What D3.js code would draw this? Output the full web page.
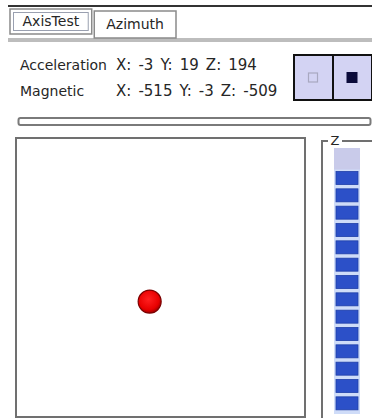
<!DOCTYPE html>
<html><head><meta charset="utf-8">
<script src="https://cdn.jsdelivr.net/npm/d3@7"></script>
<style>
html,body{margin:0;padding:0;background:#fff;}
svg{display:block;}
text{font-family:"DejaVu Sans",Tahoma,sans-serif;fill:#262626;}
</style></head>
<body>
<script>
// ---- data ----
const tabs = ["AxisTest", "Azimuth"];
const sensors = ["Acceleration", "Magnetic"];
const axisNames = ["X", "Y", "Z"];
const accel = [-3, 19, 194];
const magnetic = [-515, -3, -509];
const meterLabel = "Z";
const meterSlots = d3.range(15);
const meterMax = 208;

const W = 372, H = 418;
const svg = d3.select("body").append("svg").attr("width", W).attr("height", H);

// top edge line
svg.append("line").attr("x1", 8).attr("x2", W).attr("y1", 6).attr("y2", 6)
  .attr("stroke", "#333").attr("stroke-width", 2);
// tab strip bottom band
svg.append("rect").attr("x", 8).attr("y", 38).attr("width", W - 8).attr("height", 4).attr("fill", "#bdbdbd");

// tabs
const tabX = d3.scaleBand().domain(tabs).range([10, 176]).paddingInner(0.03);
const tabG = svg.selectAll("g.tab").data(tabs).join("g").attr("class", "tab");
tabG.append("rect")
  .attr("x", d => tabX(d)).attr("y", (d, i) => i === 0 ? 9 : 11)
  .attr("width", tabX.bandwidth()).attr("height", (d, i) => i === 0 ? 25 : 27)
  .attr("fill", "#fff").attr("stroke", "#8a8a8a").attr("stroke-width", 1.5);
tabG.filter((d, i) => i === 0).append("rect")
  .attr("x", d => tabX(d) + 3.5).attr("y", 12.5)
  .attr("width", tabX.bandwidth() - 7).attr("height", 18)
  .attr("fill", "none").attr("stroke", "#9aa0b0").attr("stroke-width", 1);
tabG.append("text")
  .attr("x", d => tabX(d) + tabX.bandwidth() / 2).attr("y", (d, i) => i === 0 ? 26 : 29)
  .attr("text-anchor", "middle").attr("font-size", 14).text(d => d);

// sensor readout
const rowY = d3.scalePoint().domain(sensors).range([70, 96]);
const readings = [accel, magnetic];
sensors.forEach((s, i) => {
  svg.append("text").attr("x", 20).attr("y", rowY(s)).attr("font-size", 14).text(s);
  svg.append("text").attr("x", 116).attr("y", rowY(s)).attr("font-size", 15)
    .attr("word-spacing", 2.3)
    .text(axisNames.map((a, j) => a + ": " + readings[i][j]).join(" "));
});

// buttons
const btnX = d3.scaleBand().domain(["off", "on"]).range([294, 372]);
svg.selectAll("rect.btn").data(btnX.domain()).join("rect").attr("class", "btn")
  .attr("x", d => btnX(d)).attr("y", 55).attr("width", btnX.bandwidth()).attr("height", 45)
  .attr("fill", "#d3d3f3").attr("stroke", "#111").attr("stroke-width", 2);
svg.append("rect").attr("x", btnX("off") + btnX.bandwidth() / 2 - 5).attr("y", 73)
  .attr("width", 9).attr("height", 9).attr("fill", "none").attr("stroke", "#a8a8c0").attr("stroke-width", 1.2);
svg.append("rect").attr("x", btnX("on") + btnX.bandwidth() / 2 - 6).attr("y", 72)
  .attr("width", 11).attr("height", 11).attr("fill", "#0b0b3a");

// progress bar (empty)
svg.append("rect").attr("x", 18.5).attr("y", 118).attr("width", 352).attr("height", 7)
  .attr("rx", 2).attr("fill", "#fff").attr("stroke", "#7a7a7a").attr("stroke-width", 2);

// main plot box
const box = {x0: 16, x1: 305, y0: 138, y1: 417};
svg.append("rect").attr("x", box.x0).attr("y", box.y0)
  .attr("width", box.x1 - box.x0).attr("height", box.y1 - box.y0)
  .attr("fill", "#fff").attr("stroke", "#707070").attr("stroke-width", 2);

const xS = d3.scaleLinear().domain([-40, 40]).range([box.x0, box.x1]);
const yS = d3.scaleLinear().domain([-110, 110]).range([box.y0, box.y1]);

const defs = svg.append("defs");
const grad = defs.append("radialGradient").attr("id", "dotg").attr("cx", "45%").attr("cy", "40%").attr("r", "60%");
grad.append("stop").attr("offset", "0%").attr("stop-color", "#ff2020");
grad.append("stop").attr("offset", "75%").attr("stop-color", "#e80000");
grad.append("stop").attr("offset", "100%").attr("stop-color", "#a00000");
svg.append("circle").datum(accel)
  .attr("cx", d => xS(d[0])).attr("cy", d => yS(d[1])).attr("r", 11.5)
  .attr("fill", "url(#dotg)").attr("stroke", "#7a0000").attr("stroke-width", 1.2);

// Z group box
const gb = {x0: 322, y0: 141, x1: 373, y1: 417};
svg.append("path")
  .attr("d", `M${gb.x0 + 6},${gb.y0} H${gb.x0} V${gb.y1 + 2} M${gb.x0 + 20},${gb.y0} H${gb.x1}`)
  .attr("fill", "none").attr("stroke", "#707070").attr("stroke-width", 2);
svg.append("text").attr("x", gb.x0 + 13).attr("y", gb.y0 + 4).attr("text-anchor", "middle")
  .attr("font-size", 13).text(meterLabel);

// meter
const mX0 = 334, mX1 = 360;
const mY = d3.scaleBand().domain(meterSlots).range([412, 152]).paddingInner(0.25).paddingOuter(0.125);
svg.append("rect").attr("x", mX0).attr("y", 148).attr("width", mX1 - mX0).attr("height", 414 - 148)
  .attr("fill", "#c9cbea");
const zToSlots = d3.scaleLinear().domain([0, meterMax]).range([0, meterSlots.length]);
const filled = Math.round(zToSlots(accel[2]));
svg.append("rect").attr("x", mX0).attr("y", mY(filled - 1) - 2).attr("width", mX1 - mX0)
  .attr("height", 414 - mY(filled - 1) + 2).attr("fill", "#cfdcf8");
svg.selectAll("rect.blk").data(meterSlots.slice(0, filled)).join("rect").attr("class", "blk")
  .attr("x", mX0 + 2).attr("y", d => mY(d)).attr("width", mX1 - mX0 - 4).attr("height", mY.bandwidth())
  .attr("fill", "#2c50c8").attr("stroke", "#1f3fa8").attr("stroke-width", 0.8);
</script>
</body></html>
